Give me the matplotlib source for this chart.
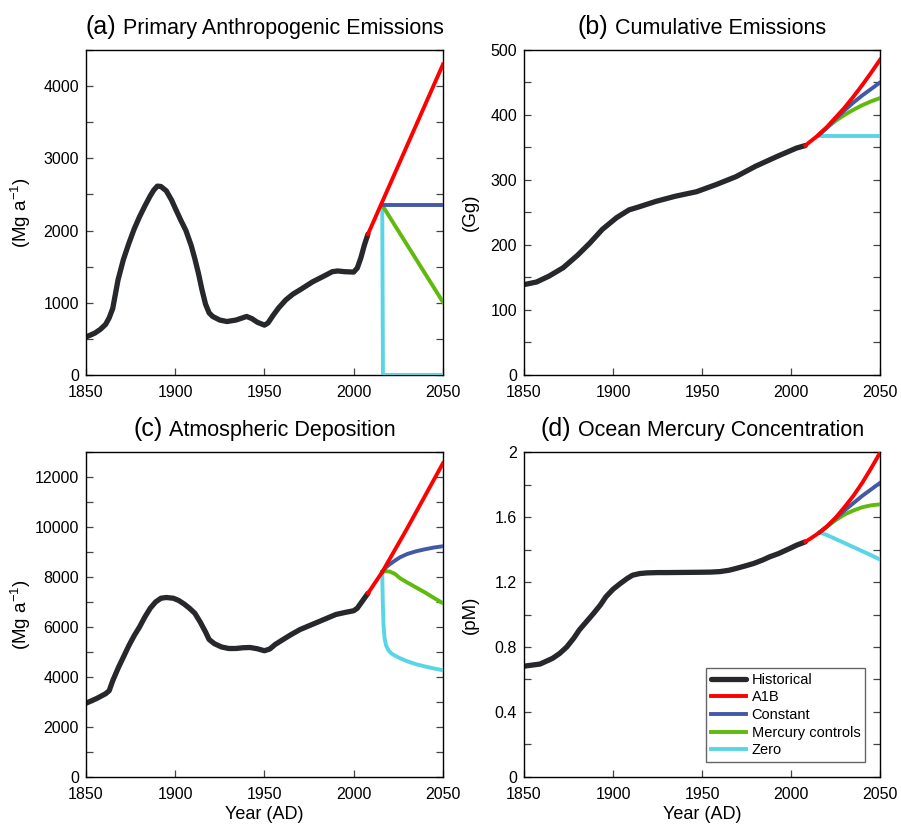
"""Four panel figure of mercury emissions, deposition and ocean concentration,
historical record from 1850 and four emission scenarios to 2050."""

import numpy as np
from matplotlib import pyplot as plt
from matplotlib.ticker import MultipleLocator, FormatStrFormatter
from matplotlib.offsetbox import TextArea, HPacker, AnchoredOffsetbox

plt.rcParams['font.family'] = ['Liberation Sans', 'DejaVu Sans']

# (a) primary anthropogenic emissions, Mg/a
yrs_a = [1850, 1855, 1858, 1861, 1863, 1865, 1868, 1871, 1874, 1877, 1880, 1883, 1886,
         1888, 1890, 1892, 1895, 1898, 1900, 1903, 1906, 1909, 1911, 1913, 1915, 1917,
         1919, 1921, 1925, 1929, 1934, 1940, 1943, 1946, 1950, 1952, 1955, 1958, 1962,
         1966, 1970, 1977, 1983, 1988, 1991, 1995, 2000, 2002, 2004, 2006, 2008]
emis_a = [525, 580, 630, 700, 790, 920, 1320, 1600, 1820, 2020, 2190, 2340, 2480,
          2560, 2615, 2610, 2550, 2420, 2310, 2150, 2000, 1790, 1610, 1410, 1180, 980,
          860, 810, 760, 740, 760, 810, 780, 730, 690, 720, 830, 930, 1040,
          1120, 1180, 1290, 1365, 1430, 1440, 1430, 1425, 1480, 1620, 1800, 1950]
a1b_yr_a = [2008, 2050]
a1b_a = [1950, 4300]
const_yr_a = [2016, 2050]
const_a = [2350, 2350]
ctrl_yr_a = [2016, 2050]
ctrl_a = [2350, 1010]
zero_yr_a = [2016, 2016.4, 2050]
zero_a = [2350, 0, 0]

# (b) cumulative emissions, Gg
yrs_b = [1850, 1857, 1864, 1872, 1880, 1887, 1894, 1902, 1909, 1915, 1924, 1935, 1947,
         1958, 1969, 1980, 1992, 2003, 2008]
cum_b = [139, 143, 152, 165, 184, 203, 224, 242, 254, 259, 267, 275, 282,
         293, 305, 321, 336, 349, 353]
a1b_yr_b = [2008, 2014, 2020, 2025, 2030, 2035, 2040, 2045, 2050]
a1b_b = [353, 366, 381, 396, 411, 428, 446, 465, 485]
scen_yr_b = [2016, 2020, 2025, 2030, 2035, 2040, 2045, 2050]
const_b = [370, 380, 394, 407, 419, 430, 440, 450]
ctrl_b = [370, 380, 391, 400, 408, 415, 421, 426]
zero_yr_b = [2016, 2050]
zero_b = [367, 367]

# (c) atmospheric deposition, Mg/a
yrs_c = [1850, 1856, 1861, 1863, 1865, 1868, 1871, 1874, 1877, 1880, 1883, 1886, 1889,
         1892, 1895, 1899, 1902, 1905, 1908, 1911, 1914, 1917, 1919, 1922, 1926, 1930,
         1934, 1938, 1942, 1946, 1950, 1953, 1956, 1960, 1965, 1970, 1976, 1981, 1985,
         1990, 1995, 2000, 2002, 2004, 2006, 2008]
dep_c = [2950, 3140, 3330, 3450, 3850, 4350, 4800, 5250, 5650, 6000, 6400, 6750, 7000,
         7150, 7180, 7150, 7060, 6920, 6750, 6550, 6200, 5800, 5500, 5330, 5200, 5140,
         5140, 5170, 5180, 5130, 5050, 5120, 5300, 5480, 5700, 5900, 6080, 6230, 6350,
         6500, 6580, 6650, 6750, 6950, 7150, 7350]
a1b_yr_c = [2008, 2016, 2030, 2050]
a1b_c = [7350, 8200, 9950, 12550]
scen_yr_c = [2016, 2018, 2020, 2023, 2026, 2030, 2035, 2040, 2045, 2050]
const_c = [8200, 8380, 8500, 8650, 8790, 8920, 9030, 9110, 9180, 9230]
ctrl_c = [8200, 8230, 8220, 8130, 7950, 7780, 7580, 7380, 7160, 6950]
zero_yr_c = [2016, 2016.3, 2016.7, 2017.3, 2018.2, 2019.5, 2021, 2023, 2026, 2030,
             2035, 2040, 2045, 2050]
zero_c = [8200, 7000, 6100, 5550, 5250, 5070, 4950, 4860, 4750, 4630,
          4510, 4420, 4340, 4270]

# (d) ocean mercury concentration, pM
yrs_d = [1850, 1859, 1866, 1870, 1874, 1878, 1881, 1885, 1889, 1893, 1896, 1900, 1904,
         1908, 1911, 1915, 1919, 1925, 1930, 1940, 1949, 1955, 1960, 1965, 1969, 1974,
         1979, 1984, 1988, 1993, 1997, 2000, 2003, 2008]
conc_d = [0.682, 0.695, 0.73, 0.76, 0.80, 0.855, 0.904, 0.955, 1.006, 1.06, 1.109, 1.155,
          1.19, 1.222, 1.242, 1.252, 1.256, 1.258, 1.258, 1.259, 1.26, 1.261, 1.264,
          1.272, 1.283, 1.298, 1.314, 1.335, 1.355, 1.375, 1.395, 1.41, 1.426, 1.447]
a1b_yr_d = [2008, 2012, 2016, 2020, 2025, 2030, 2035, 2040, 2045, 2050]
a1b_d = [1.447, 1.475, 1.505, 1.54, 1.595, 1.66, 1.73, 1.81, 1.90, 1.995]
scen_yr_d = [2016, 2020, 2025, 2030, 2035, 2040, 2045, 2050]
const_d = [1.505, 1.54, 1.59, 1.64, 1.685, 1.73, 1.77, 1.81]
ctrl_d = [1.505, 1.54, 1.58, 1.615, 1.64, 1.66, 1.672, 1.678]
zero_d = [1.505, 1.49, 1.465, 1.44, 1.415, 1.39, 1.365, 1.338]

COLORS = {'Historical': '#26282b', 'A1B': '#ff0000', 'Constant': '#4358a6',
          'Mercury controls': '#5fba0c', 'Zero': '#58d5e6'}


def panel_title(ax, tag, name):
    "Title with a larger panel letter, centred over the axes"
    box = HPacker(children=[TextArea(tag, textprops=dict(fontsize=18)),
                            TextArea(name, textprops=dict(fontsize=15.5))],
                  align='baseline', pad=0, sep=5)
    anchored = AnchoredOffsetbox(loc='lower center', child=box, pad=0, borderpad=0,
                                 frameon=False, bbox_to_anchor=(0.5, 1.035),
                                 bbox_transform=ax.transAxes)
    ax.add_artist(anchored)


def style_axes(ax, ymax, major, minor, ylabel, label_x, fmt='%g'):
    ax.set_xlim(1850, 2050)
    ax.set_ylim(0, ymax)
    ax.xaxis.set_major_locator(MultipleLocator(50))
    ax.yaxis.set_major_locator(MultipleLocator(major))
    ax.yaxis.set_minor_locator(MultipleLocator(minor))
    ax.yaxis.set_major_formatter(FormatStrFormatter(fmt))
    ax.tick_params(which='both', direction='in', left=True, right=True, top=False,
                   length=5, width=0.9, color='#444444', labelsize=11.5, pad=5)
    ax.tick_params(axis='x', pad=7)
    ax.set_ylabel(ylabel, fontsize=13.5)
    ax.yaxis.set_label_coords(label_x, 0.5)
    for sp in ax.spines.values():
        sp.set_linewidth(1.0)


def plot_panel(ax, hist, a1b, const, ctrl, zero):
    "Draws the historical curve then the scenarios, A1B on top"
    lines = {}
    lines['Historical'], = ax.plot(*hist, color=COLORS['Historical'], lw=3.8,
                                   solid_capstyle='round', solid_joinstyle='round', zorder=2)
    lines['Zero'], = ax.plot(*zero, color=COLORS['Zero'], lw=2.8, zorder=3)
    lines['Mercury controls'], = ax.plot(*ctrl, color=COLORS['Mercury controls'], lw=2.8, zorder=4)
    lines['Constant'], = ax.plot(*const, color=COLORS['Constant'], lw=2.8, zorder=5)
    lines['A1B'], = ax.plot(*a1b, color=COLORS['A1B'], lw=2.8, zorder=6)
    return lines


fig = plt.figure(figsize=(9.01, 8.25), dpi=100)
ax_a = fig.add_axes([0.0954, 0.5455, 0.3962, 0.3939])
ax_b = fig.add_axes([0.5816, 0.5455, 0.3951, 0.3939])
ax_c = fig.add_axes([0.0954, 0.0582, 0.3962, 0.3939])
ax_d = fig.add_axes([0.5816, 0.0582, 0.3951, 0.3939])

plot_panel(ax_a, (yrs_a, emis_a), (a1b_yr_a, a1b_a), (const_yr_a, const_a),
           (ctrl_yr_a, ctrl_a), (zero_yr_a, zero_a))
style_axes(ax_a, 4500, 1000, 500, r'(Mg a$^{\mathregular{-1}}$)', -0.148)
panel_title(ax_a, '(a)', 'Primary Anthropogenic Emissions')

plot_panel(ax_b, (yrs_b, cum_b), (a1b_yr_b, a1b_b), (scen_yr_b, const_b),
           (scen_yr_b, ctrl_b), (zero_yr_b, zero_b))
style_axes(ax_b, 500, 100, 50, '(Gg)', -0.126)
panel_title(ax_b, '(b)', 'Cumulative Emissions')

plot_panel(ax_c, (yrs_c, dep_c), (a1b_yr_c, a1b_c), (scen_yr_c, const_c),
           (scen_yr_c, ctrl_c), (zero_yr_c, zero_c))
style_axes(ax_c, 13000, 2000, 1000, r'(Mg a$^{\mathregular{-1}}$)', -0.148)
panel_title(ax_c, '(c)', 'Atmospheric Deposition')
ax_c.set_xlabel('Year (AD)', fontsize=13)
ax_c.xaxis.set_label_coords(0.5, -0.088)

lines_d = plot_panel(ax_d, (yrs_d, conc_d), (a1b_yr_d, a1b_d), (scen_yr_d, const_d),
                     (scen_yr_d, ctrl_d), (scen_yr_d, zero_d))
style_axes(ax_d, 2, 0.4, 0.2, '(pM)', -0.126)
panel_title(ax_d, '(d)', 'Ocean Mercury Concentration')
ax_d.set_xlabel('Year (AD)', fontsize=13)
ax_d.xaxis.set_label_coords(0.5, -0.088)

order = ['Historical', 'A1B', 'Constant', 'Mercury controls', 'Zero']
leg = ax_d.legend([lines_d[k] for k in order], order, loc='lower right', fontsize=10.5,
                  fancybox=False, edgecolor='#666666', framealpha=1, borderaxespad=1.0,
                  handlelength=2.4, handletextpad=0.4, labelspacing=0.25, borderpad=0.35)
leg.get_frame().set_linewidth(1.0)

fig.savefig('out.png', dpi=100)
